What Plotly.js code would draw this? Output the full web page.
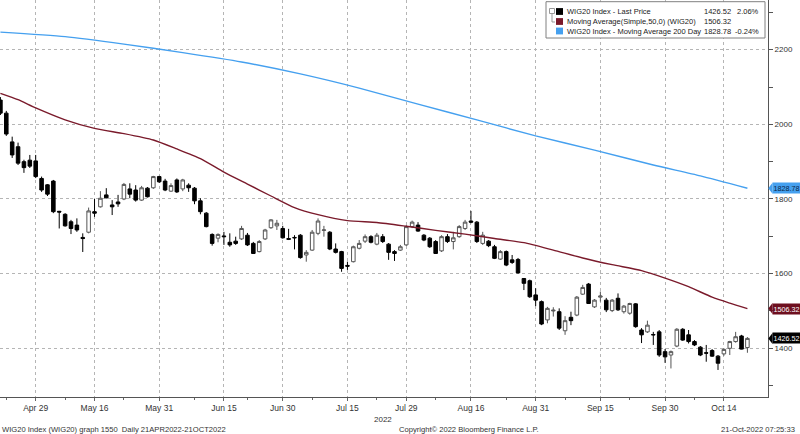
<!DOCTYPE html>
<html>
<head>
<meta charset="utf-8">
<script src="https://cdn.plot.ly/plotly-3.0.1.min.js"></script>
<style>
html,body{margin:0;padding:0;background:#fff;}
#chart{width:800px;height:434px;}
</style>
</head>
<body>
<div id="chart"></div>
<script>
// ---- data ----
const dates = [
"2022-04-21","2022-04-22","2022-04-25","2022-04-26","2022-04-27","2022-04-28","2022-04-29",
"2022-05-02","2022-05-04","2022-05-05","2022-05-06","2022-05-09","2022-05-10","2022-05-11","2022-05-12","2022-05-13",
"2022-05-16","2022-05-17","2022-05-18","2022-05-19","2022-05-20","2022-05-23","2022-05-24","2022-05-25","2022-05-26","2022-05-27","2022-05-30","2022-05-31",
"2022-06-01","2022-06-02","2022-06-03","2022-06-06","2022-06-07","2022-06-08","2022-06-09","2022-06-10","2022-06-13","2022-06-14","2022-06-15","2022-06-17",
"2022-06-20","2022-06-21","2022-06-22","2022-06-23","2022-06-24","2022-06-27","2022-06-28","2022-06-29","2022-06-30",
"2022-07-01","2022-07-04","2022-07-05","2022-07-06","2022-07-07","2022-07-08","2022-07-11","2022-07-12","2022-07-13","2022-07-14","2022-07-15",
"2022-07-18","2022-07-19","2022-07-20","2022-07-21","2022-07-22","2022-07-25","2022-07-26","2022-07-27","2022-07-28","2022-07-29",
"2022-08-01","2022-08-02","2022-08-03","2022-08-04","2022-08-05","2022-08-08","2022-08-09","2022-08-10","2022-08-11","2022-08-12",
"2022-08-16","2022-08-17","2022-08-18","2022-08-19","2022-08-22","2022-08-23","2022-08-24","2022-08-25","2022-08-26","2022-08-29","2022-08-30","2022-08-31",
"2022-09-01","2022-09-02","2022-09-05","2022-09-06","2022-09-07","2022-09-08","2022-09-09","2022-09-12","2022-09-13","2022-09-14","2022-09-15","2022-09-16",
"2022-09-19","2022-09-20","2022-09-21","2022-09-22","2022-09-23","2022-09-26","2022-09-27","2022-09-28","2022-09-29","2022-09-30",
"2022-10-03","2022-10-04","2022-10-05","2022-10-06","2022-10-07","2022-10-10","2022-10-11","2022-10-12","2022-10-13","2022-10-14",
"2022-10-17","2022-10-18","2022-10-19","2022-10-20"];

const open = [2065,2030,1953,1940,1900,1904,1902,
1855,1838,1848,1767,1759,1739,1730,1697,1711,
1766,1779,1811,1784,1792,1800,1827,1824,1797,1829,1830,1860,
1848,1821,1851,1827,1837,1829,1795,1762,1705,1695,1701,1684,
1687,1693,1703,1681,1659,1693,1723,1728,1721,
1694,1697,1703,1650,1663,1708,1716,1711,1666,1659,1622,
1632,1668,1687,1699,1679,1699,1679,1659,1663,1677,
1726,1730,1703,1695,1686,1661,1699,1686,1699,1721,
1741,1738,1681,1687,1672,1639,1659,1637,1638,1587,1581,1543,
1525,1476,1500,1498,1447,1483,1489,1545,1572,1511,1537,1529,
1501,1534,1498,1494,1519,1449,1444,1437,1444,1391,
1382,1406,1451,1436,1418,1403,1388,1394,1379,1385,
1400,1418,1433,1402];

const high = [2073,2036,1967,1951,1905,1918,1918,
1860,1840,1851,1768,1762,1744,1748,1708,1777,
1800,1821,1829,1797,1811,1843,1842,1837,1835,1832,1862,1862,
1854,1842,1855,1854,1842,1832,1802,1765,1708,1708,1712,1708,
1699,1728,1709,1685,1690,1720,1746,1744,1728,
1720,1703,1706,1663,1717,1748,1728,1714,1681,1661,1632,
1675,1690,1705,1703,1709,1706,1682,1663,1677,1730,
1742,1738,1706,1698,1690,1703,1706,1712,1730,1744,
1768,1741,1712,1690,1677,1663,1662,1650,1642,1588,1584,1561,
1528,1511,1510,1507,1486,1498,1540,1570,1575,1532,1552,1535,
1532,1547,1516,1522,1521,1454,1474,1444,1449,1398,
1394,1454,1454,1449,1422,1406,1409,1398,1382,1400,
1420,1444,1436,1430];

const low = [2025,1969,1910,1891,1870,1883,1856,
1819,1808,1762,1721,1726,1706,1712,1658,1708,
1752,1777,1802,1757,1779,1797,1802,1793,1795,1804,1827,1843,
1821,1819,1816,1821,1819,1786,1759,1724,1675,1684,1677,1672,
1677,1690,1674,1653,1657,1690,1720,1717,1694,
1690,1665,1640,1632,1661,1703,1699,1663,1654,1605,1610,
1630,1665,1682,1681,1676,1682,1637,1634,1661,1674,
1722,1712,1687,1669,1653,1658,1682,1665,1696,1717,
1735,1682,1677,1671,1639,1637,1620,1626,1600,1556,1535,1513,
1462,1467,1485,1449,1436,1462,1486,1543,1519,1508,1525,1497,
1497,1500,1493,1490,1455,1414,1441,1409,1377,1361,
1346,1403,1420,1413,1406,1379,1364,1377,1342,1380,
1382,1415,1397,1388];

const close = [2030,1974,1918,1896,1884,1888,1860,
1824,1813,1766,1765,1728,1721,1717,1694,1768,
1762,1802,1803,1779,1787,1839,1813,1797,1830,1806,1860,1846,
1824,1836,1819,1851,1830,1795,1766,1726,1681,1705,1699,1677,
1681,1721,1677,1654,1686,1717,1744,1735,1696,
1692,1696,1643,1657,1711,1741,1717,1666,1657,1614,1620,
1672,1681,1699,1684,1703,1686,1657,1654,1672,1726,
1738,1714,1690,1672,1654,1699,1686,1696,1726,1738,
1738,1686,1703,1675,1641,1659,1623,1630,1602,1574,1538,1529,
1465,1507,1502,1454,1474,1474,1537,1563,1520,1529,1540,1503,
1529,1503,1513,1520,1458,1436,1462,1436,1382,1377,
1391,1451,1422,1418,1409,1382,1387,1379,1360,1397,
1418,1431,1397.8,1426.52];

const ma50Dates = ["2022-04-21","2022-04-26","2022-04-29","2022-05-09","2022-05-16","2022-05-23","2022-05-30","2022-06-03",
"2022-06-09","2022-06-15","2022-06-22","2022-06-28","2022-07-04","2022-07-08","2022-07-15","2022-07-22","2022-07-29",
"2022-08-05","2022-08-12","2022-08-22","2022-08-29","2022-09-05","2022-09-12","2022-09-19","2022-09-26","2022-09-30",
"2022-10-06","2022-10-12","2022-10-17","2022-10-20"];
const ma50 = [2083,2066,2044,2012,1989,1975,1958,1934,
1908,1872,1840,1808,1777,1758,1742,1737,1727,
1716,1706,1694,1683,1663,1642,1624,1608,1588,
1565,1537,1521,1506.32];

const ma200Dates = ["2022-04-21","2022-05-09","2022-05-23","2022-06-06","2022-06-21","2022-07-05","2022-07-19",
"2022-08-02","2022-08-17","2022-08-31","2022-09-14","2022-09-28","2022-10-10","2022-10-20"];
const ma200 = [2247,2235,2215,2192,2167,2135,2097,2054,2012,1969,1931,1891,1862,1828.78];

const tickDates = ["2022-04-29","2022-05-16","2022-05-31","2022-06-15","2022-06-30","2022-07-15","2022-07-29",
"2022-08-16","2022-08-31","2022-09-15","2022-09-30","2022-10-14"];
const tickLabels = ["Apr 29","May 16","May 31","Jun 15","Jun 30","Jul 15","Jul 29","Aug 16","Aug 31","Sep 15","Sep 30","Oct 14"];
const minorTickDates = ["2022-04-22","2022-05-09","2022-05-23","2022-06-08","2022-06-22","2022-07-07","2022-07-22",
"2022-08-05","2022-08-24","2022-09-07","2022-09-22","2022-10-07"];

const legendNames = ["WIG20 Index - Last Price","Moving Average(Simple,50,0) (WIG20)","WIG20 Index - Moving Average 200 Day"];
const legendValues = ["1426.52","1506.32","1828.78"];
const legendChanges = ["2.06%","","-0.24%"];

// ---- styling ----
const FONT = "'Liberation Sans','DejaVu Sans',Arial,sans-serif";
const C_MA50 = "#7a1a2b";
const C_MA200 = "#45a0ef";
const W = 768, H = 397;          // plot area in px
const Y0 = 1269.5, Y1 = 2333.1;  // y range
const unitPerPx = (Y1 - Y0) / H;

const traces = [
  {
    type: "scatter", mode: "lines", x: ma200Dates, y: ma200,
    line: {color: C_MA200, width: 1.4, shape: "spline", smoothing: 0.6}, hoverinfo: "skip", showlegend: false
  },
  {
    type: "scatter", mode: "lines", x: ma50Dates, y: ma50,
    line: {color: C_MA50, width: 1.4, shape: "spline", smoothing: 0.6}, hoverinfo: "skip", showlegend: false
  },
  {
    type: "candlestick", x: dates, open: open, high: high, low: low, close: close,
    increasing: {line: {color: "#555", width: 1}, fillcolor: "#ffffff"},
    decreasing: {line: {color: "#000", width: 1}, fillcolor: "#000000"},
    whiskerwidth: 0, showlegend: false, hoverinfo: "skip"
  }
];

const px = v => v / W;           // px -> paper x
const py = v => 1 - v / H;       // px from top -> paper y

const shapes = [];
const annotations = [];
const LEGFONT = {family: FONT, size: 7.5, color: "#222"};

// legend box
shapes.push({type: "rect", xref: "paper", yref: "paper", x0: px(546), x1: px(765), y0: py(38), y1: py(1.7),
  line: {color: "#808080", width: 1}, fillcolor: "#ffffff", layer: "above"});
// small tree icon
shapes.push({type: "rect", xref: "paper", yref: "paper", x0: px(549.5), x1: px(554.5), y0: py(13.5), y1: py(8.5),
  line: {color: "#999", width: 1}, fillcolor: "#fff", layer: "above"});
shapes.push({type: "path", xref: "paper", yref: "paper",
  path: `M ${px(552)},${py(13.5)} L ${px(552)},${py(22)} L ${px(555)},${py(22)}`,
  line: {color: "#999", width: 1}, layer: "above"});
const legColors = ["#000000", C_MA50, C_MA200];
const legY = [11.5, 21.5, 31.0];
legendNames.forEach((name, k) => {
  shapes.push({type: "rect", xref: "paper", yref: "paper", x0: px(556), x1: px(563),
    y0: py(legY[k] + 3.4), y1: py(legY[k] - 3.4), line: {width: 0}, fillcolor: legColors[k], layer: "above"});
  annotations.push({xref: "paper", yref: "paper", x: px(564.5), y: py(legY[k]), xanchor: "left", yanchor: "middle",
    text: name, showarrow: false, font: LEGFONT});
  annotations.push({xref: "paper", yref: "paper", x: px(733), y: py(legY[k]), xanchor: "right", yanchor: "middle",
    text: legendValues[k], showarrow: false, font: LEGFONT});
  if (legendChanges[k]) annotations.push({xref: "paper", yref: "paper", x: px(761), y: py(legY[k]), xanchor: "right", yanchor: "middle",
    text: legendChanges[k], showarrow: false, font: LEGFONT});
});

// right-side value tags
const tags = [
  {v: ma200[ma200.length - 1], bg: C_MA200, fg: "#0b2545"},
  {v: ma50[ma50.length - 1], bg: "#6e0f1f", fg: "#ffffff"},
  {v: close[close.length - 1], bg: "#000000", fg: "#ffffff"}
];
const halfH = 5.5 * unitPerPx;
tags.forEach(t => {
  shapes.push({type: "path", xref: "paper", yref: "y",
    path: `M ${px(768.3)},${t.v} L ${px(772.5)},${t.v + halfH} L ${px(772.5)},${t.v - halfH} Z`,
    line: {width: 0}, fillcolor: t.bg, layer: "above"});
  annotations.push({xref: "paper", yref: "y", x: px(772), y: t.v, xanchor: "left", yanchor: "middle",
    text: t.v.toFixed(2), showarrow: false, bgcolor: t.bg, width: 27, height: 10, borderpad: 0, align: "center",
    font: {family: FONT, size: 7.2, color: t.fg}});
});

// year label and footer
const FOOT = {family: FONT, size: 7.6, color: "#333"};
annotations.push({xref: "paper", yref: "paper", x: px(383), y: py(419), xanchor: "center", yanchor: "middle",
  text: "2022", showarrow: false, font: {family: FONT, size: 8, color: "#333"}});
annotations.push({xref: "paper", yref: "paper", x: 0, y: py(429), xanchor: "left", yanchor: "middle",
  text: "WIG20 Index (WIG20) graph 1550  Daily 21APR2022-21OCT2022", showarrow: false, font: FOOT});
annotations.push({xref: "paper", yref: "paper", x: px(469), y: py(429), xanchor: "center", yanchor: "middle",
  text: "Copyright\u00a9 2022 Bloomberg Finance L.P.", showarrow: false, font: FOOT});
annotations.push({xref: "paper", yref: "paper", x: px(797), y: py(429), xanchor: "right", yanchor: "middle",
  text: "21-Oct-2022 07:25:33", showarrow: false, font: FOOT});

const layout = {
  width: 800, height: 434,
  margin: {l: 0, r: 32, t: 0, b: 37, pad: 0},
  paper_bgcolor: "#ffffff", plot_bgcolor: "#ffffff",
  showlegend: false, boxgap: 0.14,
  font: {family: FONT, size: 8, color: "#333"},
  xaxis: {
    type: "category", categoryorder: "array", categoryarray: dates,
    range: [-0.07, 130.5], rangeslider: {visible: false},
    tickmode: "array", tickvals: tickDates, ticktext: tickLabels,
    ticks: "outside", ticklen: 3, tickcolor: "#666",
    showgrid: true, gridcolor: "#b5b5b5", griddash: "dot", gridwidth: 1,
    showline: true, linecolor: "#555", linewidth: 1,
    minor: {tickmode: "array", tickvals: minorTickDates, ticks: "outside", ticklen: 2, tickcolor: "#666", showgrid: false},
    tickfont: {family: FONT, size: 8.5, color: "#333"},
    zeroline: false, fixedrange: true
  },
  yaxis: {
    side: "right", range: [Y0, Y1],
    tickmode: "linear", tick0: 1400, dtick: 200,
    ticks: "outside", ticklen: 4, tickcolor: "#555",
    minor: {tick0: 1300, dtick: 100, ticks: "outside", ticklen: 4, tickcolor: "#555", showgrid: false},
    showgrid: true, gridcolor: "#b5b5b5", griddash: "dot", gridwidth: 1,
    showline: true, linecolor: "#555", linewidth: 1,
    tickfont: {family: FONT, size: 8, color: "#333"},
    zeroline: false, fixedrange: true
  },
  shapes: shapes,
  annotations: annotations
};

Plotly.newPlot("chart", traces, layout, {displayModeBar: false, staticPlot: true});
</script>
</body>
</html>
